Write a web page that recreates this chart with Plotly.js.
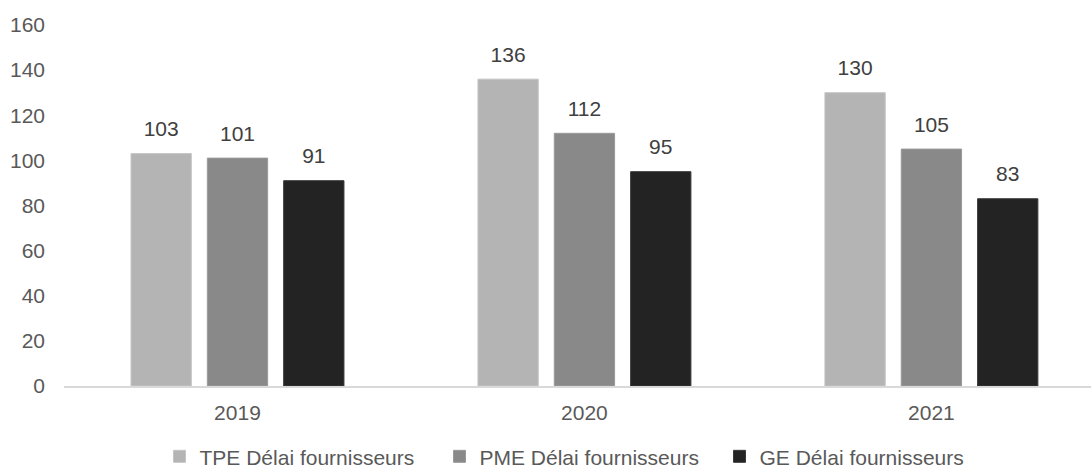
<!DOCTYPE html>
<html>
<head>
<meta charset="utf-8">
<script src="https://cdn.plot.ly/plotly-3.0.1.min.js"></script>
<style>html,body{margin:0;padding:0;background:#fff;}#chart{width:1091px;height:468px;}</style>
</head>
<body>
<div id="chart"></div>
<script>
const years = ['2019', '2020', '2021'];
const seriesNames = ['TPE Délai fournisseurs', 'PME Délai fournisseurs', 'GE Délai fournisseurs'];
const tpe = [103, 136, 130];
const pme = [101, 112, 105];
const ge = [91, 95, 83];
const yTicks = [0, 20, 40, 60, 80, 100, 120, 140, 160];

const colors = ['#b4b4b4', '#898989', '#232323'];
const lines = ['#c4c4c4', '#9a9a9a', '#3a3a3a'];
const values = [tpe, pme, ge];
const font = 'Liberation Sans, Arial, sans-serif';
const fs = 21;

const traces = [];
values.forEach((v, i) => {
  traces.push({
    type: 'bar', x: years, y: v, name: seriesNames[i],
    offsetgroup: String(i),
    marker: {color: colors[i], line: {color: lines[i], width: 1}},
    hoverinfo: 'x+y+name'
  });
});
values.forEach((v, i) => {
  traces.push({
    type: 'scatter', mode: 'markers+text', x: years, y: v,
    offsetgroup: String(i),
    text: v.map(String), textposition: 'top center',
    textfont: {family: font, size: fs, color: '#404040'},
    marker: {size: 18, opacity: 0},
    showlegend: false, hoverinfo: 'skip', cliponaxis: false
  });
});

const layout = {
  width: 1091, height: 468,
  margin: {l: 64, r: 0, t: 25, b: 82, autoexpand: false},
  paper_bgcolor: '#fff', plot_bgcolor: '#fff',
  barmode: 'group', scattermode: 'group',
  bargap: 0.34, bargroupgap: 0.21,
  font: {family: font, size: fs, color: '#595959'},
  xaxis: {
    type: 'category', range: [-0.5, 2.46],
    showline: true, linecolor: '#d9d9d9', linewidth: 1.5,
    showgrid: false, zeroline: false, ticks: '', ticklabelstandoff: 7,
    tickfont: {family: font, size: fs, color: '#595959'}
  },
  yaxis: {
    range: [0, 160], tickvals: yTicks, ticktext: yTicks.map(String),
    showgrid: false, zeroline: false, showline: false, ticks: '',
    ticklabelstandoff: 18,
    tickfont: {family: font, size: fs, color: '#595959'}
  },
  legend: {
    orientation: 'h', x: 0.093, xanchor: 'left', y: -0.139, yanchor: 'top',
    entrywidth: 235, entrywidthmode: 'pixels',
    font: {family: font, size: fs, color: '#595959'},
    itemwidth: 30
  },
  showlegend: true
};

Plotly.newPlot('chart', traces, layout, {displayModeBar: false, staticPlot: true});
</script>
</body>
</html>
